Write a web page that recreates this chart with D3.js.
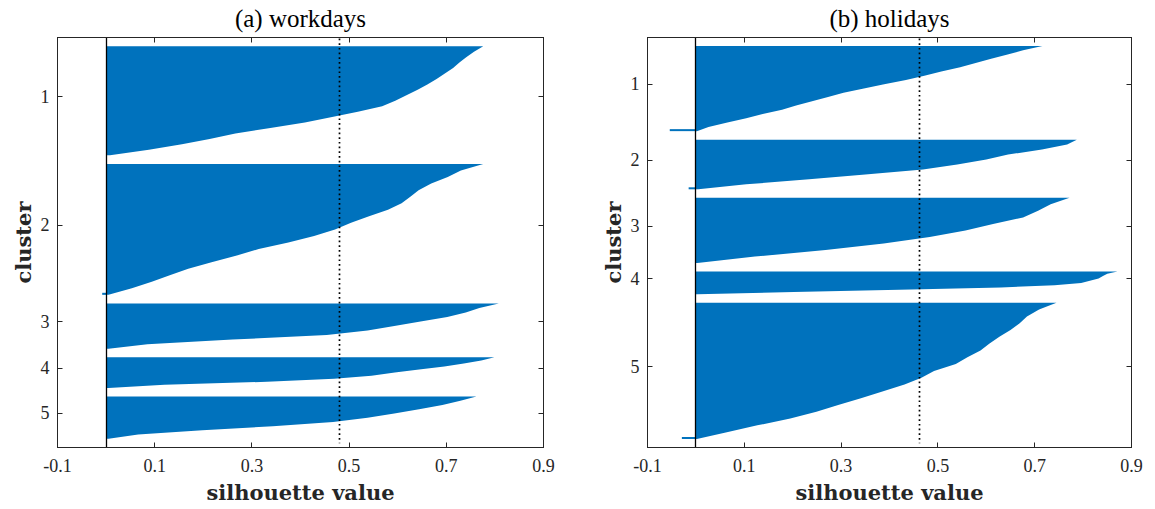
<!DOCTYPE html>
<html>
<head>
<meta charset="utf-8">
<script src="https://cdn.jsdelivr.net/npm/d3@7"></script>
<style>
    body { margin: 0; background: #fff; }
    svg { display: block; }
    .ttl { font-family: 'Liberation Serif', serif; font-size: 25px; fill: #000; }
    .tck { font-family: 'Liberation Serif', serif; font-size: 18px; fill: #262626; }
    .lbl { font-family: 'DejaVu Serif', serif; font-weight: bold; font-size: 21px; fill: #262626; }
</style>
</head>
<body>
<svg id="fig" width="1155" height="509"></svg>
<script>
// --- Chart data ----------------------------------------------------------

var xTicks = [-0.1, 0.1, 0.3, 0.5, 0.7, 0.9];
var clusterNames = ['1', '2', '3', '4', '5'];
var gapSize = 6;   // empty rows between clusters, like matlab silhouette()

// (a) workdays: members per cluster, sorted silhouette profile (top -> bottom)
var workdaysSizes = [75, 90, 31, 21, 29];
var workdaysProfiles = [
    [0.776, 0.757, 0.741, 0.727, 0.714, 0.697, 0.680, 0.661, 0.641, 0.618, 0.595,
     0.568, 0.518, 0.465, 0.409, 0.338, 0.266, 0.213, 0.156, 0.088, 0.008],
    [0.776, 0.730, 0.703, 0.669, 0.643, 0.626, 0.608, 0.580, 0.541, 0.504, 0.471,
     0.428, 0.375, 0.314, 0.269, 0.217, 0.169, 0.131, 0.094, 0.053, 0.005],
    [0.808, 0.768, 0.740, 0.702, 0.647, 0.593, 0.538, 0.454, 0.260, 0.085, 0.005],
    [0.799, 0.772, 0.736, 0.696, 0.644, 0.594, 0.546, 0.469, 0.331, 0.120, 0.005],
    [0.762, 0.729, 0.692, 0.644, 0.593, 0.538, 0.467, 0.343, 0.198, 0.066, 0.005]
];
var workdaysNegative = [0, -0.008, 0, 0, 0];
var workdaysMean = 0.481;

// (b) holidays
var holidaysSizes = [60, 35, 46, 16, 96];
var holidaysProfiles = [
    [0.716, 0.676, 0.644, 0.610, 0.578, 0.546, 0.507, 0.472, 0.434, 0.389, 0.347,
     0.305, 0.273, 0.240, 0.207, 0.178, 0.138, 0.104, 0.065, 0.026, 0.002],
    [0.787, 0.767, 0.715, 0.645, 0.600, 0.540, 0.469, 0.350, 0.234, 0.104, 0.005],
    [0.772, 0.733, 0.707, 0.676, 0.614, 0.557, 0.483, 0.388, 0.268, 0.122, 0.003],
    [0.871, 0.850, 0.841, 0.832, 0.814, 0.796, 0.741, 0.630, 0.420, 0.202, 0.003],
    [0.745, 0.709, 0.684, 0.669, 0.650, 0.627, 0.606, 0.588, 0.561, 0.537, 0.492,
     0.466, 0.431, 0.387, 0.341, 0.294, 0.249, 0.195, 0.127, 0.064, 0.002]
];
var holidaysNegative = [-0.054, -0.015, 0, 0, -0.029];
var holidaysMean = 0.462;

(function () {
    'use strict';

    var svg = d3.select('#fig');
    var barColor = '#0072bd',
        axisColor = '#262626',
        tickLen = 5;

    // --- Layout helpers ----------------------------------------------------

    // start row of every cluster block (gap + members), plus the total rows
    function blockLayout(sizes) {
        var offs = [], acc = 0;
        sizes.forEach(function (n) {
            offs.push(acc);
            acc += gapSize + n;
        });
        return { offs: offs, total: acc + gapSize };
    }

    // keep 1px lines crisp
    function crisp(v) {
        return Math.round(v - 0.5) + 0.5;
    }

    // --- One silhouette panel ----------------------------------------------

    function drawPanel(p) {
        var lay = blockLayout(p.sizes),
            g = svg.append('g'),
            x, y, area, xm, x0;

        x = d3.scaleLinear().domain([-0.1, 0.9]).range([p.left, p.right]);
        y = d3.scaleLinear().domain([0, lay.total]).range([p.top, p.bottom]);

        area = d3.area()
            .x0(x(0))
            .x1(function (d) { return x(d.v); })
            .y(function (d) { return y(d.u); });

        // filled profiles
        p.profiles.forEach(function (vals, i) {
            var start = lay.offs[i] + gapSize,
                n = p.sizes[i],
                pts = vals.map(function (v, j) {
                    return { u: start + n * j / (vals.length - 1), v: v };
                });
            g.append('path')
                .attr('d', area(pts))
                .attr('fill', barColor)
                .attr('stroke', 'none');

            if (p.negative[i] < 0) {
                g.append('rect')
                    .attr('x', x(p.negative[i]))
                    .attr('width', x(0) - x(p.negative[i]))
                    .attr('y', y(start + n - 1.4))
                    .attr('height', y(start + n) - y(start + n - 1.4))
                    .attr('fill', barColor);
            }
        });

        // zero baseline
        x0 = crisp(x(0));
        g.append('line')
            .attr('x1', x0).attr('x2', x0)
            .attr('y1', p.top).attr('y2', p.bottom)
            .attr('stroke', '#000')
            .attr('stroke-width', 1.3);

        // mean silhouette value (dotted)
        xm = crisp(x(p.mean));
        g.append('line')
            .attr('x1', xm).attr('x2', xm)
            .attr('y1', y(0) + 1).attr('y2', y(lay.total - gapSize / 2))
            .attr('stroke', '#000')
            .attr('stroke-width', 1.7)
            .attr('stroke-dasharray', '1.7,3');

        // box + inward ticks
        var yTicks = p.sizes.map(function (n, i) {
            return lay.offs[i] + (gapSize + n) / 2;
        });

        g.append('rect')
            .attr('x', p.left).attr('y', p.top)
            .attr('width', p.right - p.left).attr('height', p.bottom - p.top)
            .attr('fill', 'none')
            .attr('stroke', axisColor)
            .attr('stroke-width', 1);

        xTicks.forEach(function (t) {
            var xx = crisp(x(t));
            g.append('line').attr('x1', xx).attr('x2', xx)
                .attr('y1', p.bottom).attr('y2', p.bottom - tickLen)
                .attr('stroke', axisColor);
            g.append('line').attr('x1', xx).attr('x2', xx)
                .attr('y1', p.top).attr('y2', p.top + tickLen)
                .attr('stroke', axisColor);
            g.append('text')
                .attr('class', 'tck')
                .attr('x', x(t)).attr('y', p.bottom + 24.5)
                .attr('text-anchor', 'middle')
                .text(d3.format('.1f')(t).replace('\u2212', '-'));
        });

        yTicks.forEach(function (t, i) {
            var yy = crisp(y(t));
            g.append('line').attr('x1', p.left).attr('x2', p.left + tickLen)
                .attr('y1', yy).attr('y2', yy)
                .attr('stroke', axisColor);
            g.append('line').attr('x1', p.right).attr('x2', p.right - tickLen)
                .attr('y1', yy).attr('y2', yy)
                .attr('stroke', axisColor);
            g.append('text')
                .attr('class', 'tck')
                .attr('x', p.left - 8).attr('y', y(t))
                .attr('dy', '0.34em')
                .attr('text-anchor', 'end')
                .text(clusterNames[i]);
        });

        // titles and axis labels
        g.append('text')
            .attr('class', 'ttl')
            .attr('x', (p.left + p.right) / 2).attr('y', 27)
            .attr('text-anchor', 'middle')
            .text(p.title);

        g.append('text')
            .attr('class', 'lbl')
            .attr('x', (p.left + p.right) / 2).attr('y', 500)
            .attr('text-anchor', 'middle')
            .text('silhouette value');

        g.append('text')
            .attr('class', 'lbl')
            .attr('transform', 'translate(' + (p.left - 27) + ',' +
                  ((p.top + p.bottom) / 2) + ') rotate(-90)')
            .attr('text-anchor', 'middle')
            .text('cluster');
    }

    // --- Build the figure ----------------------------------------------------

    drawPanel({
        title: '(a) workdays',
        sizes: workdaysSizes,
        profiles: workdaysProfiles,
        negative: workdaysNegative,
        mean: workdaysMean,
        left: 57.5, right: 543.5, top: 37.5, bottom: 447.5
    });

    drawPanel({
        title: '(b) holidays',
        sizes: holidaysSizes,
        profiles: holidaysProfiles,
        negative: holidaysNegative,
        mean: holidaysMean,
        left: 647.5, right: 1131.5, top: 37.5, bottom: 447.5
    });
}());
</script>
</body>
</html>
